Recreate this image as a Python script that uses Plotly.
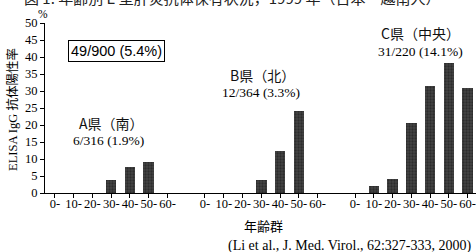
import plotly.graph_objects as go

# ---- data ----
age_groups = ["0-", "10-", "20-", "30-", "40-", "50-", "60-"]
prefectures = ["A県（南）", "B県（北）", "C県（中央）"]
counts = ["6/316 (1.9%)", "12/364 (3.3%)", "31/220 (14.1%)"]
rate_A = [0, 0, 0, 3.7, 7.6, 9.0, 0]
rate_B = [0, 0, 0, 3.9, 12.5, 24.1, 0]
rate_C = [0, 2.2, 4.2, 20.5, 31.4, 38.2, 31.0]
total_label = "49/900 (5.4%)"
y_ticks = [0, 5, 10, 15, 20, 25, 30, 35, 40, 45, 50]

series = [rate_A, rate_B, rate_C]
SLOT = len(age_groups) + 1  # one empty slot between prefectures

W, H = 476, 252
L, R, T, B = 45, 0, 23, 59
PW, PH = W - L - R, H - T - B

def xp(px):
    return (px - L) / PW

def yp(py):
    return (H - B - py) / PH

SERIF = "Liberation Serif, Times New Roman, Noto Sans CJK JP, serif"
SANS = "Liberation Sans, Arial, sans-serif"
CJK = "Noto Sans CJK JP, sans-serif"

fig = go.Figure()
tickvals, ticktext = [], []
for g, vals in enumerate(series):
    xs = [g * SLOT + i for i in range(len(age_groups))]
    tickvals += xs
    ticktext += age_groups
    fig.add_trace(go.Bar(
        x=xs, y=vals, width=0.56,
        marker=dict(color="#353535", line=dict(width=0),
                    pattern=dict(shape=".", fgcolor="#141414", bgcolor="#444444",
                                 size=3, solidity=0.45)),
        showlegend=False, hoverinfo="skip"))

fig.update_layout(
    width=W, height=H, autosize=False,
    margin=dict(l=L, r=R, t=T, b=B, pad=0),
    paper_bgcolor="white", plot_bgcolor="white",
    bargap=0,
    xaxis=dict(range=[-0.53, 22.45], tickmode="array", tickvals=tickvals,
               ticktext=ticktext, ticks="outside", ticklen=4, tickwidth=1,
               tickcolor="black", showline=True, linecolor="black", linewidth=1,
               showgrid=False, zeroline=False, automargin=False,
               ticklabelstandoff=-5,
               tickfont=dict(family=SERIF, size=12.5, color="black")),
    yaxis=dict(range=[0, 50], tickmode="array", tickvals=y_ticks,
               ticks="outside", ticklen=4, tickwidth=1, tickcolor="black",
               showline=True, linecolor="black", linewidth=1,
               showgrid=False, zeroline=False, automargin=False,
               tickfont=dict(family=SERIF, size=12.5, color="black")),
)

def note(text, px, py, font, **kw):
    d = dict(text=text, xref="paper", yref="paper", x=xp(px), y=yp(py),
             xanchor="center", yanchor="middle", showarrow=False, font=font)
    d.update(kw)
    return d

ann = []
# cut-off figure title at the top
ann.append(note("図 1. 年齢別 E 型肝炎抗体保有状況，1999 年（日本・越南人）", 22, -3,
                dict(family=CJK, size=15, color="#222"), xanchor="left"))
ann.append(note("%", 43, 14, dict(family=SERIF, size=11.5, color="black")))
ann.append(note("ELISA IgG 抗体陽性率", 13, 110,
                dict(family=SERIF, size=12.5, color="black"), textangle=-90))
ann.append(note("年齢群", 263, 225, dict(family=CJK, size=13, color="black")))
ann.append(note(total_label, 116, 51, dict(family=SANS, size=14.5, color="black"),
                bordercolor="black", borderwidth=1, borderpad=2))
name_pos = [(111, 123), (262, 75), (420, 33)]
count_pos = [(108, 140), (261, 92), (420, 51)]
for name, cnt, (nx, ny), (cx, cy) in zip(prefectures, counts, name_pos, count_pos):
    ann.append(note(name, nx, ny, dict(family=CJK, size=14, color="#111")))
    ann.append(note(cnt, cx, cy, dict(family=SERIF, size=13.5, color="black")))
ann.append(note("(Li et al., J. Med. Virol., 62:327-333, 2000)", 473, 246,
                dict(family=SERIF, size=14, color="black"), xanchor="right"))
fig.update_layout(annotations=ann)

fig.write_html("out.html", config={"displayModeBar": False},
               post_script="document.body.style.margin='0';document.body.style.overflow='hidden';")
